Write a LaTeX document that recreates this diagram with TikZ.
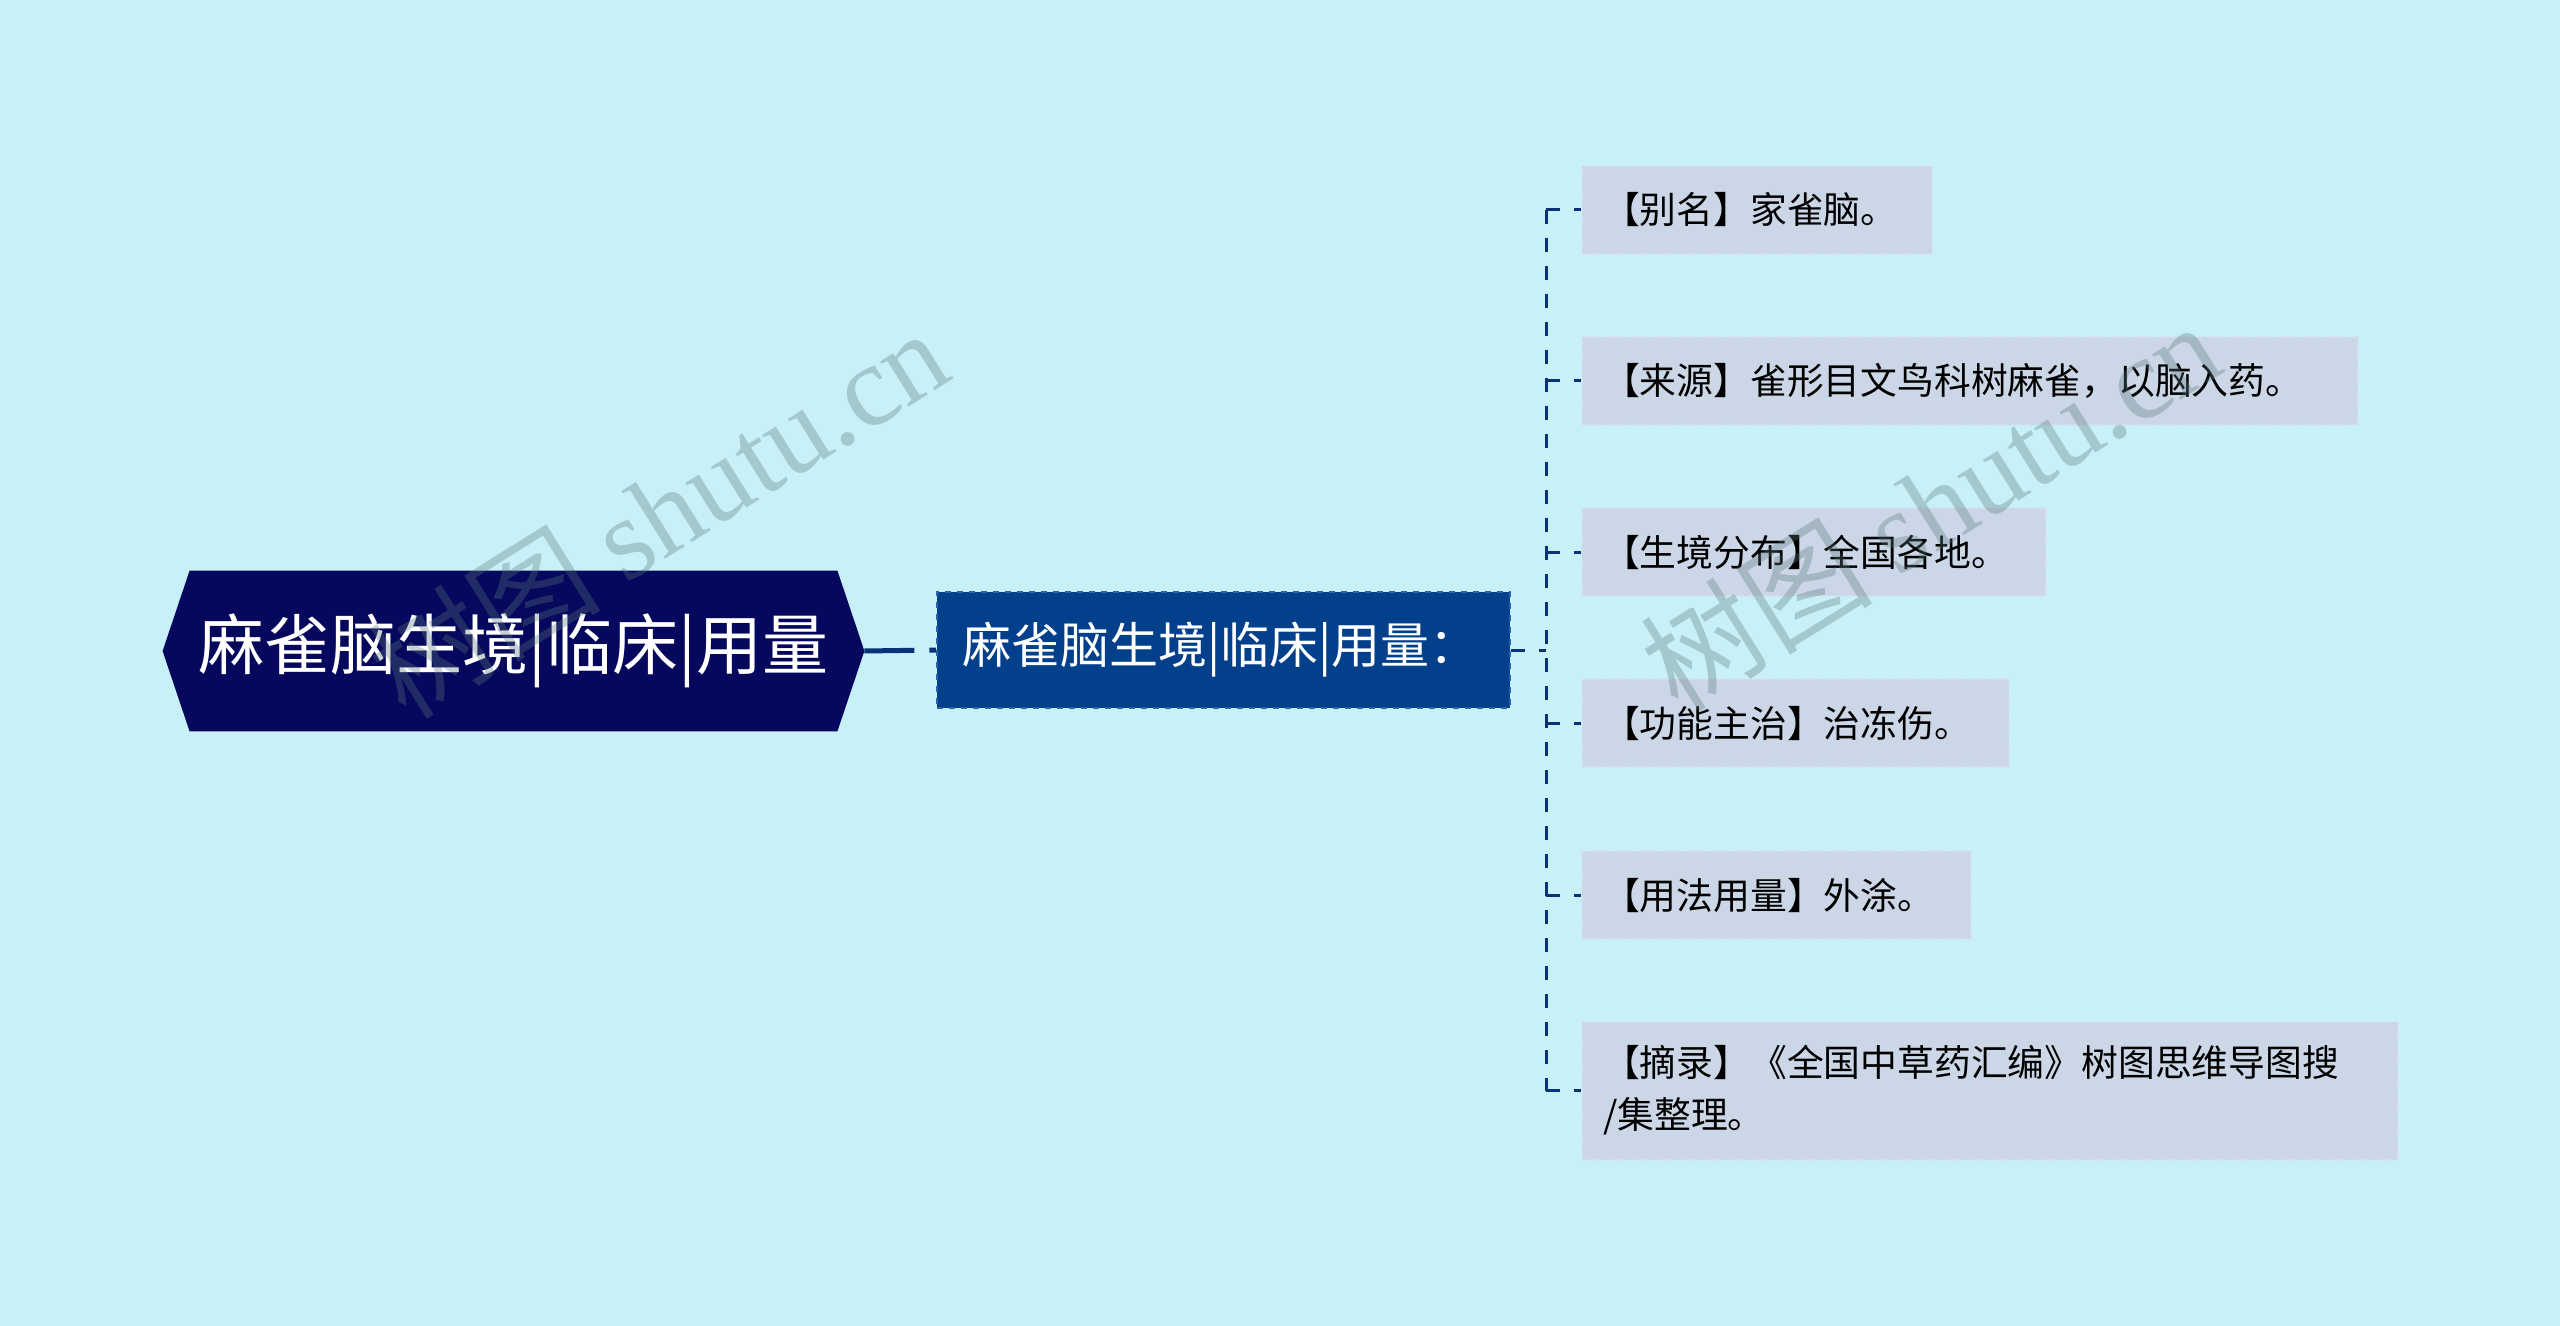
\documentclass[tikz,border=0pt]{standalone}
\usepackage{fontspec}
\setmainfont{Noto Sans CJK SC}
\newfontfamily\markfont{Liberation Serif}
\usetikzlibrary{positioning}

\definecolor{bgcyan}{HTML}{C8F0F7}
\definecolor{rootblue}{HTML}{05085C}
\definecolor{midblue}{HTML}{02408B}
\definecolor{midedge}{HTML}{2F62A6}
\definecolor{leafgray}{HTML}{CBD6E6}
\definecolor{leafedge}{HTML}{D6DFEC}
\definecolor{linkblue}{HTML}{0A3377}
\definecolor{markgray}{HTML}{5A787D}

\tikzset{
  roottopic/.style = {minimum width=350.5pt, minimum height=80pt, inner sep=0pt,
                      text=white, font=\fontsize{33}{40}\selectfont},
  midtopic/.style  = {fill=midblue, draw=midedge, dashed, line width=1pt,
                      text width=261.5pt, inner xsep=12.5pt, inner ysep=0pt,
                      minimum height=58pt, align=left, text=white,
                      font=\fontsize{24.5}{30}\selectfont},
  leaftopic/.style = {fill=leafgray, draw=leafedge, dashed, line width=1pt,
                      anchor=west, inner xsep=10.5pt, inner ysep=0pt,
                      minimum height=44pt, align=left, text=black,
                      font=\fontsize{18.4}{26}\selectfont},
  rootlink/.style  = {draw=linkblue, line width=2.5pt, dash pattern=on 25pt off 7.5pt},
  branch/.style    = {draw=linkblue, line width=1.5pt, dash pattern=on 7pt off 7pt},
  watermark/.style = {text=markgray, opacity=0.33, rotate=32, inner sep=0pt,
                      font=\fontsize{58}{60}\selectfont}
}

\begin{document}
\begin{tikzpicture}[x=0.5pt,y=-0.5pt]

        %Background
        \fill [bgcyan]  (0,0) rectangle (2560,1326);
        \useasboundingbox (0,0) rectangle (2560,1326);

        %Root topic
        \node [roottopic] (root) at (513.5,651) {};
        \fill [rootblue] (root.west) -- ([xshift=13.5pt]root.north west) -- ([xshift=-13.5pt]root.north east)
                         -- (root.east) -- ([xshift=-13.5pt]root.south east) -- ([xshift=13.5pt]root.south west) -- cycle;
        \node [roottopic] (roottext) at (root.center) {麻雀脑生境|临床|用量};

        %Middle topic
        \node [midtopic] (mid) at (1223.5,650) {麻雀脑生境|临床|用量：};
        \draw [rootlink] (root.east) -- (mid.west);

        %Leaf topics
        \node [leaftopic, text width=154pt]   (alias)  at (1581,210)  {【别名】家雀脑。};
        \node [leaftopic, text width=367pt]   (source) at (1581,381)  {【来源】雀形目文鸟科树麻雀，以脑入药。};
        \node [leaftopic, text width=211pt]   (habit)  at (1581,552)  {【生境分布】全国各地。};
        \node [leaftopic, text width=192.5pt] (usage)  at (1581,723)  {【功能主治】治冻伤。};
        \node [leaftopic, text width=173.5pt] (dose)   at (1581,895)  {【用法用量】外涂。};
        \node [leaftopic, text width=387pt, minimum height=69pt]
                                              (excerpt) at (1581,1090.5) {【摘录】《全国中草药汇编》树图思维导图搜\\/集整理。};

        %Branch lines
        \coordinate (fork) at (1546,650);
        \draw [branch] (mid.east) -- (fork);
        \draw [branch] (fork |- alias.west) -- (fork |- excerpt.west);
        \foreach \leaf in {alias,source,habit,usage,dose,excerpt}
          \draw [branch] (fork |- \leaf.west) -- (\leaf.west);

        %Watermarks
        \node [watermark] (mark1) at (658,512)  {树图 {\markfont shutu.cn}};
        \node [watermark] (mark2) at (1930,505) {树图 {\markfont shutu.cn}};

\end{tikzpicture}
\end{document}
